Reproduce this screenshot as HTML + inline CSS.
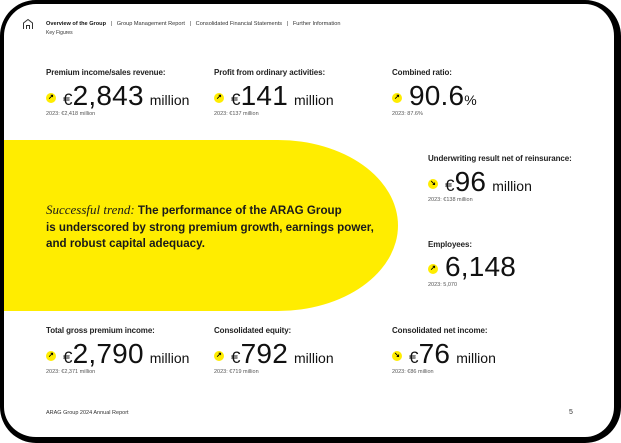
<!DOCTYPE html>
<html><head><meta charset="utf-8"><style>
*{margin:0;padding:0;box-sizing:border-box}
body{width:621px;height:443px;background:#fff;overflow:hidden;font-family:"Liberation Sans",sans-serif;color:#1a1a1a;position:relative}
.frame{position:absolute;left:0;top:0;width:621px;height:443px;border-style:solid;border-color:#000;border-width:4px 7px 6px 4px;border-radius:36px;z-index:5;pointer-events:none}
.yel{position:absolute;left:4px;top:140px;width:394px;height:171px;background:#ffed00;border-radius:0 120px 120px 0 / 0 85.5px 85.5px 0}
.t{position:absolute;white-space:nowrap}
.nav{font-size:5.6px;color:#333;top:21px;left:46px}
.lab{font-size:8px;font-weight:bold;color:#222;letter-spacing:-0.1px}
.num{font-size:28px;font-weight:normal;letter-spacing:0.2px;color:#111;line-height:1}
.num .e{font-size:17px}
.num .m{font-size:14px;letter-spacing:0;margin-left:-2px}
.sub{font-size:5.5px;color:#555}
.dot{display:inline-block;width:10px;height:10px;border-radius:50%;background:#ffed00;position:relative;vertical-align:middle;margin-right:7px;font-size:7px;line-height:10px;text-align:center;color:#000;font-weight:bold}
.mid{left:46px;top:202px;font-size:11.6px;font-weight:bold;line-height:16.6px;color:#1a1a1a}
.mid i{font-family:"Liberation Serif",serif;font-weight:normal;font-size:13px}
</style></head><body>
<div class="yel"></div>
<div class="frame"></div>
<svg style="position:absolute;left:22px;top:18px" width="12" height="12" viewBox="0 0 12 12"><path d="M1.5 11V5L6 1.5 10.5 5V11M4.5 11V7.5h3V11" fill="none" stroke="#333" stroke-width="1"/></svg>
<div class="t nav"><b style="color:#111">Overview of the Group</b> &nbsp; | &nbsp; Group Management Report &nbsp; | &nbsp; Consolidated Financial Statements &nbsp; | &nbsp; Further Information</div>
<div class="t nav" style="top:30px;font-size:5px">Key Figures</div>

<div class="t lab" style="left:46px;top:68px">Premium income/sales revenue:</div>
<div class="t num" style="left:46px;top:82px"><span class="dot">↗</span><span class="e">€</span>2,843 <span class="m">million</span></div>
<div class="t sub" style="left:46px;top:111px">2023: €2,418 million</div>

<div class="t lab" style="left:214px;top:68px">Profit from ordinary activities:</div>
<div class="t num" style="left:214px;top:82px"><span class="dot">↗</span><span class="e">€</span>141 <span class="m">million</span></div>
<div class="t sub" style="left:214px;top:111px">2023: €137 million</div>

<div class="t lab" style="left:392px;top:68px">Combined ratio:</div>
<div class="t num" style="left:392px;top:82px"><span class="dot">↗</span>90.6<span class="m" style="margin-left:0">%</span></div>
<div class="t sub" style="left:392px;top:111px">2023: 87.6%</div>

<div class="t lab" style="left:428px;top:154px">Underwriting result net of reinsurance:</div>
<div class="t num" style="left:428px;top:168px"><span class="dot">↘</span><span class="e">€</span>96 <span class="m">million</span></div>
<div class="t sub" style="left:428px;top:197px">2023: €138 million</div>

<div class="t lab" style="left:428px;top:240px">Employees:</div>
<div class="t num" style="left:428px;top:253px"><span class="dot">↗</span>6,148</div>
<div class="t sub" style="left:428px;top:282px">2023: 5,070</div>

<div class="t mid"><i>Successful trend:</i> The performance of the ARAG Group<br>is underscored by strong premium growth, earnings power,<br>and robust capital adequacy.</div>

<div class="t lab" style="left:46px;top:326px">Total gross premium income:</div>
<div class="t num" style="left:46px;top:340px"><span class="dot">↗</span><span class="e">€</span>2,790 <span class="m">million</span></div>
<div class="t sub" style="left:46px;top:369px">2023: €2,371 million</div>

<div class="t lab" style="left:214px;top:326px">Consolidated equity:</div>
<div class="t num" style="left:214px;top:340px"><span class="dot">↗</span><span class="e">€</span>792 <span class="m">million</span></div>
<div class="t sub" style="left:214px;top:369px">2023: €719 million</div>

<div class="t lab" style="left:392px;top:326px">Consolidated net income:</div>
<div class="t num" style="left:392px;top:340px"><span class="dot">↘</span><span class="e">€</span>76 <span class="m">million</span></div>
<div class="t sub" style="left:392px;top:369px">2023: €86 million</div>

<div class="t sub" style="left:46px;top:410px;color:#333">ARAG Group 2024 Annual Report</div>
<div class="t sub" style="left:569px;top:409px;font-size:7px;color:#333">5</div>
</body></html>
